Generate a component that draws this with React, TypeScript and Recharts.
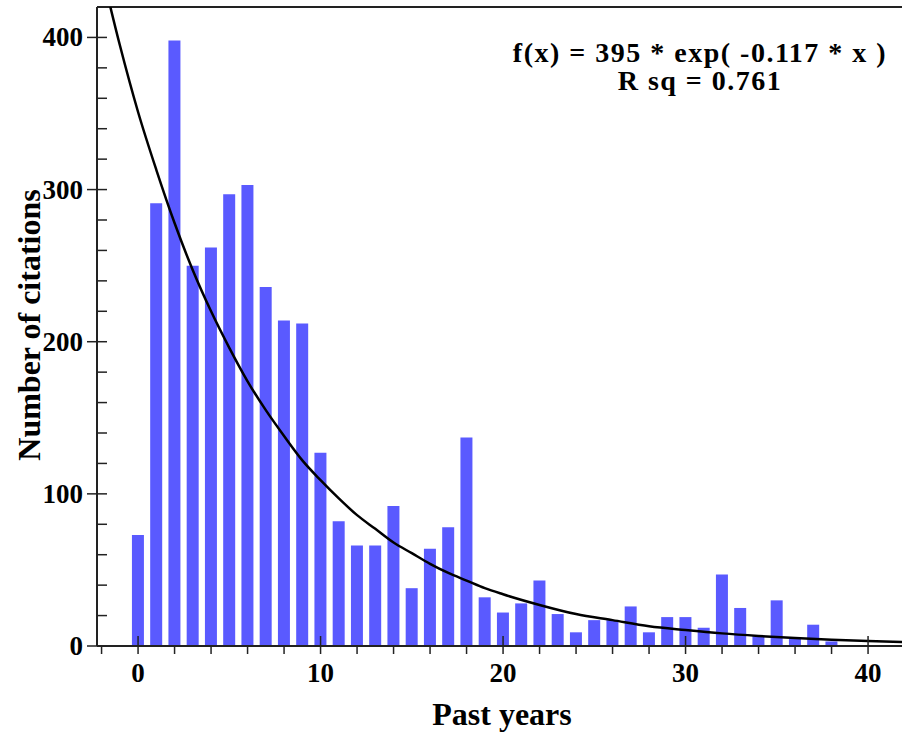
import React from 'react';
import { Bar, ComposedChart, Line, ReferenceLine, XAxis, YAxis } from 'recharts';

// citations per past year (0..38)
const CITATIONS = [
  73, 291, 398, 250, 262, 297, 303, 236, 214, 212, 127, 82, 66, 66, 92, 38, 64, 78, 137, 32,
  22, 28, 43, 21, 9, 17, 17, 26, 9, 19, 19, 12, 47, 25, 7, 30, 5, 14, 3,
];

// fitted curve, points
const FIT_X = [-2, -1, 0, 1, 2, 3, 4, 5, 6, 7, 8, 9, 10, 11, 12, 13, 14, 15, 16, 17, 18, 19, 20, 22, 24, 26, 28, 30, 32, 34, 36, 38, 40, 42];
const FIT_Y = [444, 395, 351, 313, 278, 247, 220, 196, 174, 155, 138, 122, 109, 97, 86, 77, 68, 61, 54, 48, 43, 38, 34, 27, 21, 17, 13, 10.5, 8.3, 6.6, 5.2, 4.1, 3.3, 2.6];

const X_TICKS = [-2, 0, 2, 4, 6, 8, 10, 12, 14, 16, 18, 20, 22, 24, 26, 28, 30, 32, 34, 36, 38, 40];
const Y_TICKS = [0, 20, 40, 60, 80, 100, 120, 140, 160, 180, 200, 220, 240, 260, 280, 300, 320, 340, 360, 380, 400];

const FONT = "'Liberation Serif', 'Times New Roman', serif";
const AXIS = '#222';

const barData = CITATIONS.map((v, i) => ({ year: i, count: v }));
const fitData = FIT_X.map((x, i) => ({ year: x, fit: FIT_Y[i] }));

const YTick = (props: any) => {
  const { x, y, payload } = props;
  const major = payload.value % 100 === 0;
  return (
    <g>
      <line x1={major ? x - 10 : x} x2={x + 10} y1={y} y2={y} stroke={AXIS} strokeWidth={1.5} />
      {major && (
        <text x={x - 14} y={y + 9} textAnchor="end" fontSize={27} fontWeight="bold" fontFamily={FONT} fill="#000">
          {payload.value}
        </text>
      )}
    </g>
  );
};

const XTick = (props: any) => {
  const { x, y, payload } = props;
  const major = payload.value % 10 === 0;
  return (
    <g>
      <line x1={x} x2={x} y1={major ? y - 10 : y} y2={y + 8} stroke={AXIS} strokeWidth={1.5} />
      {major && (
        <text x={x} y={y + 36} textAnchor="middle" fontSize={27} fontWeight="bold" fontFamily={FONT} fill="#000">
          {payload.value}
        </text>
      )}
    </g>
  );
};

export default function App() {
  return (
    <div style={{ position: 'absolute', left: 0, top: 0, width: 902, height: 732, background: '#fff' }}>
      <ComposedChart width={902} height={732} data={barData} margin={{ top: 7, right: 0, bottom: 36, left: 47 }}>
        <XAxis
          dataKey="year"
          type="number"
          domain={[-2.25, 41.86]}
          allowDataOverflow
          ticks={X_TICKS}
          interval={0}
          height={50}
          tickSize={0}
          tickMargin={0}
          tick={<XTick />}
          axisLine={{ stroke: AXIS, strokeWidth: 2 }}
        />
        <YAxis
          type="number"
          domain={[0, 420]}
          allowDataOverflow
          ticks={Y_TICKS}
          interval={0}
          width={50}
          tickSize={0}
          tickMargin={0}
          tick={<YTick />}
          axisLine={{ stroke: AXIS, strokeWidth: 2 }}
        />
        <ReferenceLine y={420} stroke={AXIS} strokeWidth={2} />
        <Bar dataKey="count" fill="#5A5AFF" barSize={12} isAnimationActive={false} />
        <Line
          data={fitData}
          dataKey="fit"
          type="monotone"
          stroke="#000"
          strokeWidth={2.5}
          dot={false}
          activeDot={false}
          isAnimationActive={false}
        />
      </ComposedChart>
      <svg width={902} height={732} style={{ position: 'absolute', left: 0, top: 0, pointerEvents: 'none' }}>
        <g fontFamily={FONT} fontWeight="bold" fill="#000">
          <text x={700} y={62} textAnchor="middle" fontSize={28} letterSpacing={1.5}>
            f(x) = 395 * exp( -0.117 * x )
          </text>
          <text x={700} y={90} textAnchor="middle" fontSize={28} letterSpacing={1.5}>
            R sq = 0.761
          </text>
          <text x={502} y={725} textAnchor="middle" fontSize={32}>
            Past years
          </text>
          <text x={40} y={325} textAnchor="middle" fontSize={32} transform="rotate(-90 40 325)">
            Number of citations
          </text>
        </g>
      </svg>
    </div>
  );
}
